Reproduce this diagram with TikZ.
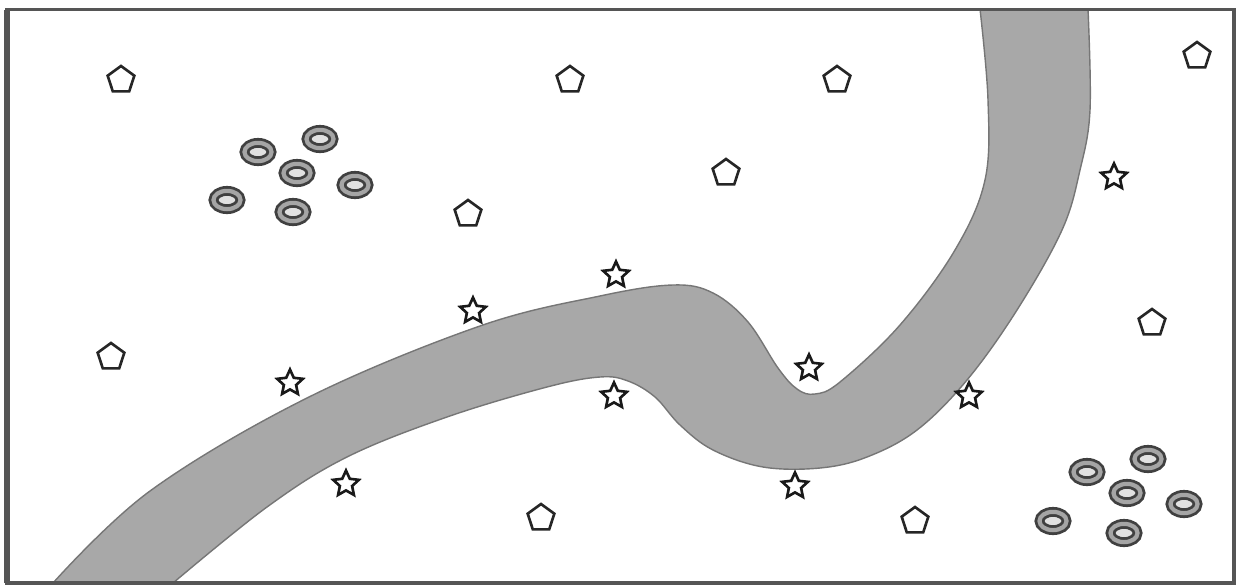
\documentclass[tikz,border=0pt]{standalone}
\usepackage{tikz}
\usetikzlibrary{shapes.geometric}
\definecolor{riverfill}{RGB}{168,168,168}
\definecolor{riverline}{RGB}{118,118,118}
\definecolor{ringline}{RGB}{64,64,64}
\definecolor{ringfill}{RGB}{165,165,165}
\definecolor{ringhole}{RGB}{225,225,225}
\definecolor{framegray}{RGB}{85,85,85}
\tikzset{
  pent/.style={regular polygon,regular polygon sides=5,draw=black!85,fill=white,line width=1.5pt,minimum size=5.6mm,inner sep=0pt},
  starmk/.style={star,star points=5,star point ratio=2.1,draw=black!90,fill=white,line width=1.5pt,minimum size=5.4mm,inner sep=0pt},
  ring/.style={ellipse,draw=ringline,double=ringfill,double distance=2.4pt,line width=1.6pt,fill=ringhole,minimum width=15.4pt,minimum height=10.4pt,inner sep=0pt},
  river/.style={fill=riverfill,draw=riverline,line width=0.8pt},
  boxline/.style={draw=framegray,line width=2pt}
}

\begin{document}
\begin{tikzpicture}[x=0.02cm,y=-0.02cm]
  \useasboundingbox (0,0) rectangle (1237,585);
  % the grey band
  \draw[river] plot[smooth,tension=0.6] coordinates {(53,583) (150,491) (307,398) (480,326) (600,296) (673,285) (713,293) (748,322) (778,368) (797,389) (815,394) (840,382) (900,325) (955,250) (985,180) (988,100) (980,9)}
    -- plot[smooth,tension=0.6] coordinates {(1088,9) (1090,110) (1080,170) (1062,230) (1017,310) (967,380) (917,430) (867,457) (820,468) (763,467) (713,450) (680,425) (655,397) (628,381) (600,377) (547,387) (447,417) (347,457) (267,507) (173,583)} -- cycle;
  % pentagons
  \foreach \px/\py [count=\i] in {121/80,570/80,837/80,1197/56,726/173,468/214,111/357,1152/323,541/518,915/521}
    \node[pent] (p\i) at (\px,\py) {};
  % stars
  \foreach \px/\py [count=\i] in {616/275,473/311,290/383,614/396,809/368,969/396,1114/177,346/484,795/486}
    \node[starmk] (s\i) at (\px,\py) {};
  % rings
  \foreach \px/\py [count=\i] in {258/152,320/139,297/173,355/185,227/200,293/212,1087/472,1148/459,1127/493,1184/504,1053/521,1124/533}
    \node[ring] (r\i) at (\px,\py) {};
  \draw[boxline] (7,9.5) rectangle (1234,583);
  \draw[boxline,line width=3pt] (7,9.5) -- (7,583);
\end{tikzpicture}
\end{document}
